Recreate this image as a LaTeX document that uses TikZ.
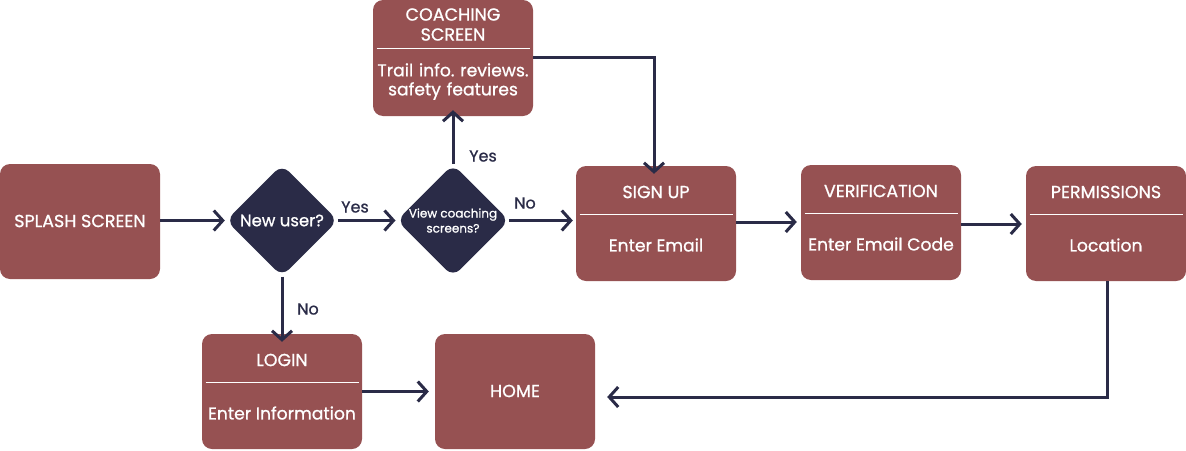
\documentclass[tikz,border=0pt]{standalone}
\usepackage{fontspec}
\setmainfont{Poppins}[FakeBold=0.9]
\usetikzlibrary{arrows.meta,shapes.geometric}
\definecolor{boxc}{HTML}{965152}
\definecolor{navy}{HTML}{2A2B47}
\frenchspacing
\tikzset{
  box/.style={fill=boxc, rounded corners=10pt, minimum width=160pt, minimum height=115pt, inner sep=0pt},
  dia/.style={diamond, fill=navy, rounded corners=10pt, minimum width=112pt, minimum height=112pt, inner sep=0pt, text=white},
  ttl/.style={text=white, font=\fontsize{17.5}{20}\selectfont, inner sep=0pt, align=center},
  sub/.style={text=white, font=\fontsize{17.2}{19}\selectfont, inner sep=0pt, align=center},
  lbl/.style={text=navy, font=\fontsize{16}{18}\selectfont, inner sep=0pt},
  conn/.style={draw=navy, line width=3pt, -{Straight Barb[length=9pt,width=20pt,line width=3pt]}},
  divider/.style={draw=white, line width=1pt}
}
\begin{document}
\begin{tikzpicture}[x=1pt,y=-1pt]
\useasboundingbox (0,0) rectangle (1186,450);
% boxes
\node[box] (splash) at (80,221.5) {};
\node[ttl] (splashT) at (80,221) {SPLASH SCREEN};
\node[box, minimum height=116pt] (coach) at (453,58) {};
\node[ttl, text width=158pt] (coachT) at (453,24.5) {COACHING\\SCREEN};
\node[sub, text width=158pt] (coachS) at (453,81.5) {Trail info. reviews.\\safety features};
\coordinate (cdl) at (376.5,48); \coordinate (cdr) at (529.5,48);
\draw[divider] (cdl) -- (cdr);

\node[box] (signup) at (656,223.5) {};
\node[ttl] (signupT) at (656,192) {SIGN UP};
\node[sub] (signupS) at (656,245) {Enter Email};
\coordinate (sdl) at (579.5,214); \coordinate (sdr) at (732.5,214);
\draw[divider] (sdl) -- (sdr);

\node[box] (verif) at (881,222.5) {};
\node[ttl] (verifT) at (881,191) {VERIFICATION};
\node[sub] (verifS) at (881,244) {Enter Email Code};
\coordinate (vdl) at (804.5,213); \coordinate (vdr) at (957.5,213);
\draw[divider] (vdl) -- (vdr);

\node[box] (perm) at (1106,223.5) {};
\node[ttl] (permT) at (1106,192) {PERMISSIONS};
\node[sub] (permS) at (1106,245) {Location};
\coordinate (pdl) at (1029.5,214); \coordinate (pdr) at (1182.5,214);
\draw[divider] (pdl) -- (pdr);

\node[box] (login) at (282,391.5) {};
\node[ttl] (loginT) at (282,360) {LOGIN};
\node[sub] (loginS) at (282,413) {Enter Information};
\coordinate (ldl) at (205.5,382); \coordinate (ldr) at (358.5,382);
\draw[divider] (ldl) -- (ldr);

\node[box] (home) at (515,391.5) {};
\node[ttl] (homeT) at (515,391) {HOME};

% diamonds
\node[dia, font=\fontsize{16.5}{18}\selectfont] (newuser) at (282,220.5) {New user?};
\node[dia, font=\fontsize{12}{15}\selectfont, align=center] (view) at (453,220.5) {View coaching\\screens?};

% connectors
\draw[conn] (splash.east |- newuser.west) -- ([xshift=-1pt]newuser.west);
\draw[conn] (newuser.east) -- ([xshift=-1pt]view.west);
\draw[conn] (view.east) -- ([xshift=-3pt]signup.west |- view.east);
\draw[conn] (view.north) -- ([yshift=6pt]coach.south);
\coordinate (c1) at (654,57);
\draw[conn] (coach.east |- c1) -- (c1) -- ([yshift=-8pt]signup.north -| c1);
\draw[conn] (signup.east |- 0,222) -- ([xshift=-4pt]verif.west |- 0,222);
\draw[conn] (verif.east |- 0,224) -- ([xshift=-4pt]perm.west |- 0,224);
\coordinate (p1) at (1107,397);
\draw[conn] (perm.south -| p1) -- (p1) -- ([xshift=12pt]home.east |- p1);
\draw[conn] (newuser.south) -- ([yshift=-8pt]login.north);
\draw[conn] (login.east) -- ([xshift=-6pt]home.west);

% labels
\node[lbl] (yes1) at (355,207) {Yes};
\node[lbl] (no1) at (525,203) {No};
\node[lbl] (yes2) at (483,156) {Yes};
\node[lbl] (no2) at (308,309) {No};
\end{tikzpicture}
\end{document}
